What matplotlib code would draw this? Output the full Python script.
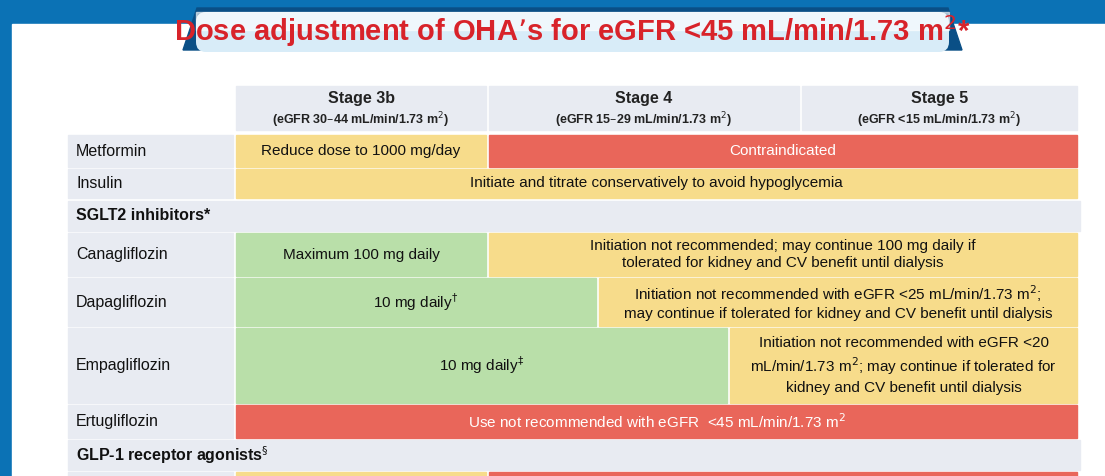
import matplotlib
matplotlib.use("Agg")
import matplotlib.pyplot as plt
from matplotlib.patches import Rectangle, Polygon, FancyBboxPatch

title = "Dose adjustment of OHA\u2019s for eGFR <45 mL/min/1.73 m$^{2}$*"
stages = ["Stage 3b", "Stage 4", "Stage 5"]
stage_sub = ["(eGFR 30\u201344 mL/min/1.73 m$^{2}$)", "(eGFR 15\u201329 mL/min/1.73 m$^{2}$)",
             "(eGFR <15 mL/min/1.73 m$^{2}$)"]
drugs = ["Metformin", "Insulin", "SGLT2 inhibitors*", "Canagliflozin", "Dapagliflozin",
         "Empagliflozin", "Ertugliflozin", "GLP-1 receptor agonists$^{\u00a7}$", ""]
# cells per row: (start, end in stage units, colour key, text)
cells = [
    [(0, 1, "Y", "Reduce dose to 1000 mg/day"), (1, 3, "R", "Contraindicated")],
    [(0, 3, "Y", "Initiate and titrate conservatively to avoid hypoglycemia")],
    None,
    [(0, 1, "G", "Maximum 100 mg daily"),
     (1, 3, "Y", "Initiation not recommended; may continue 100 mg daily if\ntolerated for kidney and CV benefit until dialysis")],
    [(0, 1.35, "G", "10 mg daily$^{\u2020}$"),
     (1.35, 3, "Y", "Initiation not recommended with eGFR <25 mL/min/1.73 m$^{2}$;\nmay continue if tolerated for kidney and CV benefit until dialysis")],
    [(0, 1.77, "G", "10 mg daily$^{\u2021}$"),
     (1.77, 3, "Y", "Initiation not recommended with eGFR <20\nmL/min/1.73 m$^{2}$; may continue if tolerated for\nkidney and CV benefit until dialysis")],
    [(0, 3, "R", "Use not recommended with eGFR  <45 mL/min/1.73 m$^{2}$")],
    None,
    [(0, 1, "Y", ""), (1, 3, "R", "")],
]

COL = {"Y": "#f7dc8b", "R": "#e9665a", "G": "#b9dfa9"}
LBG = "#e8ebf2"
plt.rcParams["font.family"] = ["Liberation Sans Narrow", "Liberation Sans", "DejaVu Sans"]

fig = plt.figure(figsize=(11.05, 4.76), dpi=100)
ax = fig.add_axes([0, 0, 1, 1])
ax.set_xlim(0, 1105); ax.set_ylim(476, 0); ax.axis("off")
fig.patch.set_facecolor("#0b72b5")
ax.add_patch(Rectangle((12, 24), 1093, 460, color="white"))
# banner
ax.add_patch(Polygon([[183, 50], [197, 8], [948, 8], [962, 50]], color="#0a4f86"))
ax.add_patch(FancyBboxPatch((196, 12), 753, 40, boxstyle="round,pad=0,rounding_size=10",
                            fc="#d8ecf8", ec="none"))
ax.add_patch(Rectangle((196, 12), 753, 18, color="white", alpha=0.6))
ax.text(572, 31, title, color="#d8232a", fontsize=21, fontweight="bold", ha="center", va="center")

col_x = [236, 489, 802, 1080]
def sx(u):
    i = min(int(u), 2); f = u - i
    return col_x[i] + f * (col_x[i + 1] - col_x[i])

# header
for i in range(3):
    x0, x1 = col_x[i], col_x[i + 1] - 3
    ax.add_patch(Rectangle((x0, 86), x1 - x0, 44, color=LBG))
    ax.text((x0 + x1) / 2, 99, stages[i], fontsize=11.5, fontweight="bold", ha="center", va="center", color="#222")
    ax.text((x0 + x1) / 2, 120, stage_sub[i], fontsize=9, fontweight="bold", ha="center", va="center", color="#222")

row_y = [(135, 167), (169, 198), (201, 231), (233, 276), (278, 326), (328, 403), (405, 438), (440, 470), (472, 490)]
for name, row, (y0, y1) in zip(drugs, cells, row_y):
    h = y1 - y0
    if row is None:
        ax.add_patch(Rectangle((68, y0), 1012, h, color=LBG))
        ax.text(76, (y0 + y1) / 2, name, fontsize=11.5, fontweight="bold", va="center", color="#111")
        continue
    ax.add_patch(Rectangle((68, y0), 165, h, color=LBG))
    ax.text(76, (y0 + y1) / 2, name, fontsize=11.5, va="center", color="#111")
    for a, b, c, t in row:
        x0, x1 = sx(a), sx(b) - 3
        ax.add_patch(Rectangle((x0, y0), x1 - x0, h, color=COL[c]))
        ax.text((x0 + x1) / 2, (y0 + y1) / 2, t, fontsize=11, ha="center", va="center",
                color="white" if c == "R" else "#111", linespacing=1.3)

fig.savefig("out.png", dpi=100)
